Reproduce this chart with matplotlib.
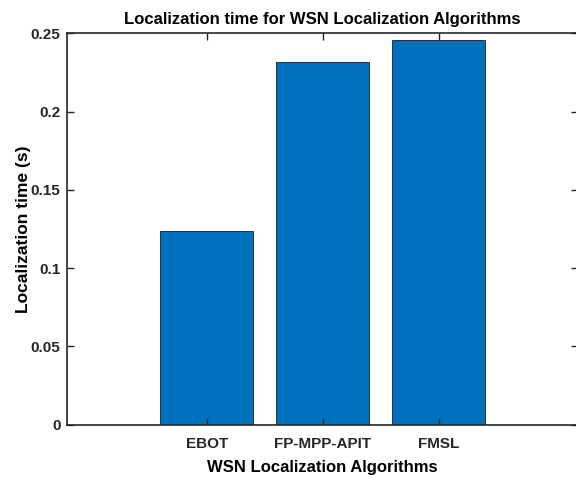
import matplotlib.pyplot as plt

# Average localization time per algorithm (seconds)
algorithms = ['EBOT', 'FP-MPP-APIT', 'FMSL']
loc_time = [0.1235, 0.2318, 0.2455]
y_ticks = [0, 0.05, 0.1, 0.15, 0.2, 0.25]
y_tick_labels = ['0', '0.05', '0.1', '0.15', '0.2', '0.25']

plt.rcParams['font.family'] = ['Liberation Sans', 'DejaVu Sans']

fig = plt.figure(figsize=(5.76, 4.78), dpi=100)
ax = fig.add_axes([0.117, 0.1115, 0.8865, 0.8189])

x = range(1, len(algorithms) + 1)
ax.bar(x, loc_time, width=0.8, color='#0072BD', edgecolor='#1a1a1a', linewidth=0.6)

ax.set_xlim(-0.2, 4.2)
ax.set_ylim(0, 0.25)
ax.set_xticks(list(x))
ax.set_xticklabels(algorithms)
ax.set_yticks(y_ticks)
ax.set_yticklabels(y_tick_labels)

# box on, ticks pointing inward on all four sides
ax.tick_params(direction='in', length=5, width=1, colors='#262626',
               top=True, right=True, labelsize=11)
ax.tick_params(axis='x', pad=9)
ax.tick_params(axis='y', pad=5)
for lbl in ax.get_xticklabels() + ax.get_yticklabels():
    lbl.set_fontweight('bold')
for side in ax.spines.values():
    side.set_linewidth(1.2)
    side.set_color('#262626')

ax.set_title('Localization time for WSN Localization Algorithms',
             fontsize=12, fontweight='bold', pad=7)
ax.set_xlabel('WSN Localization Algorithms', fontsize=12, fontweight='bold', labelpad=6)
ax.set_ylabel('Localization time (s)', fontsize=12.5, fontweight='bold', labelpad=0)

fig.savefig('out.png', dpi=100)
